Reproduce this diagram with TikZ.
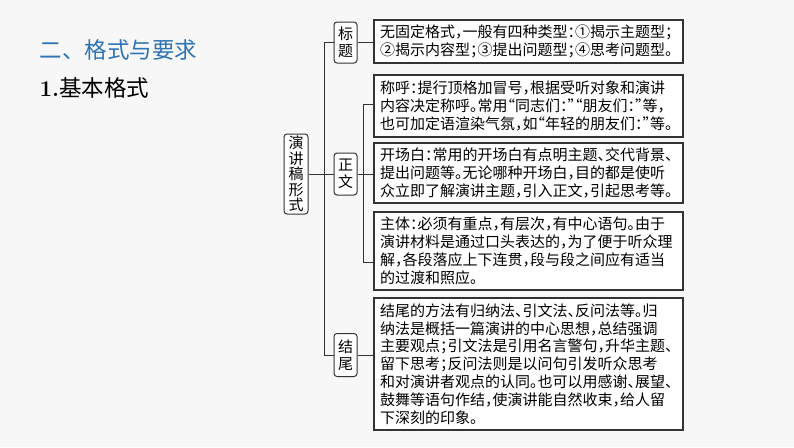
\documentclass[tikz,border=0pt]{standalone}
\usepackage{fontspec}
\usepackage{xcolor}
\newfontfamily\zhfont[RawFeature=+halt]{Noto Sans CJK SC}
\newfontfamily\zhtitle{Noto Sans CJK SC}
\definecolor{TitleBlue}{HTML}{2E74B5}
\definecolor{LineGray}{HTML}{333333}
\tikzset{
  textbox/.style={draw=LineGray, fill=white, line width=1.2pt, text width=297pt,
    inner xsep=6pt, inner ysep=0pt, align=left, font=\zhfont\fontsize{15}{17.8}\selectfont},
  tagbox/.style={draw=LineGray, fill=white, rounded corners=3pt, line width=1pt,
    inner sep=0pt, minimum width=23pt, text width=16pt, align=center,
    font=\zhfont\fontsize{15}{16.8}\selectfont},
  link/.style={draw=LineGray, line width=1pt}
}

\begin{document}
\begin{tikzpicture}[x=1pt, y=-1pt]
    \useasboundingbox[fill=black!3] (0,0) rectangle (794,447);
    \node[anchor=west, text=TitleBlue, font=\zhtitle\fontsize{22.5}{24}\selectfont] (title) at (36,50) {二、格式与要求};
    \node[anchor=west, font=\zhtitle\fontsize{22.5}{24}\selectfont] (sub) at (36,88) {{\rmfamily\bfseries 1.}基本格式};

    \node[tagbox, minimum width=24pt, minimum height=80pt, font=\zhfont\fontsize{15}{15.5}\selectfont] (root) at (296,174) {演\\讲\\稿\\形\\式};
    \node[tagbox, minimum height=41pt] (bt) at (345.5,42.5) {标\\题};
    \node[tagbox, minimum height=42pt] (zw) at (345.5,174) {正\\文};
    \node[tagbox, minimum height=43pt] (jw) at (345.5,355) {结\\尾};

    \node[textbox, minimum height=43pt] (t1) at (528.5,41.5) {无固定格式，一般有四种类型：①揭示主题型；\\②揭示内容型；③提出问题型；④思考问题型。};
    \node[textbox, minimum height=62pt] (t2) at (528.5,106) {称呼：提行顶格加冒号，根据受听对象和演讲\\内容决定称呼。常用“同志们：”“朋友们：”等，\\也可加定语渲染气氛，如“年轻的朋友们：”等。};
    \node[textbox, minimum height=60pt] (t3) at (528.5,173) {开场白：常用的开场白有点明主题、交代背景、\\提出问题等。无论哪种开场白，目的都是使听\\众立即了解演讲主题，引入正文，引起思考等。};
    \node[textbox, minimum height=78pt] (t4) at (528.5,251) {主体：必须有重点，有层次，有中心语句。由于\\演讲材料是通过口头表达的，为了便于听众理\\解，各段落应上下连贯，段与段之间应有适当\\的过渡和照应。};
    \node[textbox, minimum height=132pt] (t5) at (528.5,364) {结尾的方法有归纳法、引文法、反问法等。归\\纳法是概括一篇演讲的中心思想，总结强调\\主要观点；引文法是引用名言警句，升华主题、\\留下思考；反问法则是以问句引发听众思考\\和对演讲者观点的认同。也可以用感谢、展望、\\鼓舞等语句作结，使演讲能自然收束，给人留\\下深刻的印象。};

    \coordinate (trunk) at (324,0);
    \coordinate (fork) at (363,0);
    \coordinate (t2in) at ([yshift=2pt]t2.west);
    \coordinate (t4in) at ([yshift=-11pt]t4.west);
    \draw[link] (root.east) -- (zw.west);
    \draw[link] (bt.west) -- (bt.west -| trunk) -- (jw.west -| trunk) -- (jw.west);
    \draw[link] (bt.east) -- (bt.east -| t1.west);
    \draw[link] (zw.east) -- (zw.east -| t3.west);
    \draw[link] (jw.east) -- (jw.east -| t5.west);
    \draw[link] (t2in) -- (t2in -| fork) -- (t4in -| fork) -- (t4in);
\end{tikzpicture}
\end{document}
